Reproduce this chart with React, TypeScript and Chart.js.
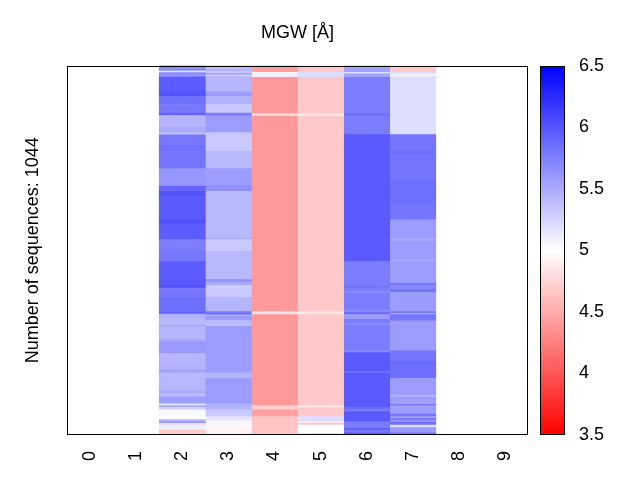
import React, { useEffect, useRef } from "react";
import { Chart, registerables } from "chart.js";

Chart.register(...registerables);

const categories = ["0", "1", "2", "3", "4", "5", "6", "7", "8", "9"];
const totalRows = 1044;
const colorbarTicks = [3.5, 4, 4.5, 5, 5.5, 6, 6.5];
const vMin = 3.5;
const vMax = 6.5;

// Each column: row where a band starts (top = row 0) and its MGW value
const col2Starts = [0, 6, 9, 15, 19, 21, 27, 32, 74, 87, 110, 134, 141, 172, 190, 196, 226, 242, 291, 337, 341, 355, 370, 436, 447, 492,
  521, 554, 560, 606, 622, 629, 643, 657, 695, 702, 714, 733, 736, 773, 780, 813, 841, 860, 868, 884, 917, 926, 936, 956, 961, 966, 973, 992, 1000, 1004, 1011, 1016, 1020, 1030];
const col2Values = [5.92, 5.55, 5.75, 5.2, 5.5, 5.7, 5.6, 5.95, 6.0, 5.84, 5.8, 5.92, 5.44, 5.5, 5.37, 5.8, 5.84, 5.82, 5.62, 5.65, 5.9, 6.0, 5.97, 6.03, 5.95, 5.76,
  5.8, 5.94, 5.96, 5.97, 6.03, 5.79, 5.81, 5.85, 5.94, 5.46, 5.42, 5.55, 5.44, 5.5, 5.6, 5.44, 5.46, 5.55, 5.42, 5.43, 5.5, 5.42, 5.57, 5.15, 5.5, 5.28, 5.04, 5.0, 5.32, 5.58, 5.2, 4.85, 5.1, 4.7];

const col3Starts = [0, 6, 11, 17, 21, 26, 32, 74, 87, 110, 134, 143, 189, 194, 242, 291, 339, 355, 487, 492,
  521, 524, 605, 612, 622, 631, 655, 695, 705, 707, 720, 733, 736, 868, 884, 956, 973, 992, 1003, 1020];
const col3Values = [5.5, 5.37, 5.46, 5.28, 5.55, 5.32, 5.43, 5.58, 5.46, 5.32, 5.75, 5.58, 5.37, 5.32, 5.42, 5.58, 5.65, 5.42, 5.5, 5.32,
  5.32, 5.42, 5.65, 5.5, 5.28, 5.32, 5.44, 5.81, 5.32, 5.58, 5.42, 5.32, 5.58, 5.44, 5.58, 5.46, 5.32, 5.15, 5.05, 4.93];

const col4Starts = [0, 19, 33, 136, 143, 696, 704, 961, 973, 992];
const col4Values = [4.43, 5.09, 4.4, 4.83, 4.4, 4.83, 4.4, 4.72, 4.43, 4.65];

const col5Starts = [0, 19, 33, 136, 143, 696, 704, 961, 967, 992, 1006, 1011, 1016, 1039];
const col5Values = [4.68, 5.2, 4.68, 4.86, 4.68, 4.86, 4.68, 4.85, 4.68, 5.2, 4.87, 4.68, 5.0, 5.2];

const col6Starts = [0, 19, 23, 33, 136, 143, 195, 554, 556, 622, 629, 638, 643, 690, 697, 704, 717, 730, 733, 806, 811, 865, 870, 966, 973, 978, 1006, 1025, 1030, 1037];
const col6Values = [5.55, 5.2, 5.55, 5.77, 5.85, 5.77, 5.97, 5.75, 5.77, 5.82, 5.77, 5.7, 5.77, 5.7, 5.85, 5.58, 5.77, 5.65, 5.77, 5.7, 5.97, 5.84, 5.97, 5.85, 5.75, 5.97, 5.77, 5.94, 5.79, 5.97];

const col7Starts = [0, 19, 25, 28, 33, 195, 242, 252, 327, 346, 368, 389, 436, 492, 495,
  549, 554, 615, 622, 632, 641, 695, 700, 704, 719, 723, 806, 837, 846, 860, 884, 931, 937, 952, 956, 962, 967, 985, 992, 997, 1001, 1008, 1016, 1023, 1037];
const col7Values = [4.68, 5.2, 4.95, 5.13, 5.2, 5.82, 5.85, 5.82, 5.85, 5.84, 5.85, 5.82, 5.58, 5.44, 5.58,
  5.5, 5.58, 5.8, 5.7, 5.82, 5.58, 5.82, 5.5, 5.82, 5.7, 5.58, 5.82, 5.87, 5.84, 5.85, 5.58, 5.46, 5.58, 5.5, 5.75, 5.55, 5.58, 5.82, 5.55, 5.82, 5.65, 5.84, 5.2, 5.58, 5.79];

const columns: [string, number[], number[]][] = [
  ["2", col2Starts, col2Values],
  ["3", col3Starts, col3Values],
  ["4", col4Starts, col4Values],
  ["5", col5Starts, col5Values],
  ["6", col6Starts, col6Values],
  ["7", col7Starts, col7Values],
];

const FONT = "'Liberation Sans', Arial, Helvetica, sans-serif";

function bwrR(v: number): string {
  const t = Math.min(1, Math.max(0, (v - vMin) / (vMax - vMin)));
  if (t <= 0.5) {
    const s = Math.round((t / 0.5) * 255);
    return `rgb(255,${s},${s})`;
  }
  const s = Math.round(((1 - t) / 0.5) * 255);
  return `rgb(${s},${s},255)`;
}

const framePlugin = {
  id: "frame",
  afterDraw(chart: any) {
    const { ctx, chartArea } = chart;
    const l = Math.round(chartArea.left) + 0.5;
    const t = Math.round(chartArea.top) + 0.5;
    const r = Math.round(chartArea.right) - 0.5;
    const b = Math.round(chartArea.bottom) - 0.5;
    ctx.save();
    ctx.strokeStyle = "#000";
    ctx.lineWidth = 1;
    ctx.strokeRect(l, t, r - l, b - t);
    ctx.restore();
  },
};

const gradientPlugin = {
  id: "cbGradient",
  beforeDatasetsDraw(chart: any) {
    const { ctx, chartArea, scales } = chart;
    const y = scales.y;
    const y0 = y.getPixelForValue(vMin);
    const y1 = y.getPixelForValue(vMax);
    const g = ctx.createLinearGradient(0, y0, 0, y1);
    g.addColorStop(0, bwrR(vMin));
    g.addColorStop(0.5, bwrR((vMin + vMax) / 2));
    g.addColorStop(1, bwrR(vMax));
    ctx.save();
    ctx.fillStyle = g;
    ctx.fillRect(chartArea.left, y1, chartArea.right - chartArea.left, y0 - y1);
    ctx.restore();
  },
};

export default function App() {
  const mainRef = useRef<HTMLCanvasElement>(null);
  const cbRef = useRef<HTMLCanvasElement>(null);

  useEffect(() => {
    Chart.defaults.color = "#000";
    Chart.defaults.font.family = FONT;
    Chart.defaults.font.size = 18;

    const datasets = columns.map(([label, starts, values]) => ({
      label: "col " + label,
      data: starts.map((s, i) => ({
        x: label,
        y: [s, i + 1 < starts.length ? starts[i + 1] : totalRows],
      })),
      backgroundColor: values.map(bwrR),
      borderWidth: 0,
      barPercentage: 1,
      categoryPercentage: 1,
      grouped: false,
    }));

    const main = new Chart(mainRef.current!, {
      type: "bar",
      data: { labels: categories, datasets: datasets as any },
      options: {
        animation: false,
        responsive: false,
        devicePixelRatio: 1,
        layout: { padding: { left: 18, right: 112, top: 0, bottom: 0 } },
        plugins: {
          legend: { display: false },
          tooltip: { enabled: false },
          title: {
            display: true,
            text: "MGW [Å]",
            fullSize: false,
            font: { size: 18, weight: "normal", family: FONT },
            color: "#000",
            padding: { top: 22, bottom: 22 },
          },
        },
        scales: {
          x: {
            type: "category",
            offset: true,
            grid: { display: false, drawTicks: false },
            border: { display: false },
            ticks: {
              minRotation: 90,
              maxRotation: 90,
              padding: 16,
              font: { size: 18, family: FONT },
              color: "#000",
            },
            afterFit(scale: any) {
              scale.height = 45;
            },
          },
          y: {
            type: "linear",
            min: 0,
            max: totalRows,
            reverse: true,
            grid: { display: false, drawTicks: false },
            border: { display: false },
            ticks: { display: false },
            title: {
              display: true,
              text: "Number of sequences: " + totalRows,
              font: { size: 18, family: FONT },
              color: "#000",
              padding: { top: 4, bottom: 4 },
            },
            afterFit(scale: any) {
              scale.width = 49;
            },
          },
        },
      },
      plugins: [framePlugin],
    });

    const cb = new Chart(cbRef.current!, {
      type: "bar",
      data: { labels: ["MGW"], datasets: [{ label: "cb", data: [] }] },
      options: {
        animation: false,
        responsive: false,
        devicePixelRatio: 1,
        layout: { padding: { left: 10, right: 30, top: 66, bottom: 45 } },
        plugins: { legend: { display: false }, tooltip: { enabled: false }, title: { display: false } },
        scales: {
          x: { display: false },
          y: {
            type: "linear",
            position: "right",
            min: vMin,
            max: vMax,
            grid: { display: false, drawTicks: false },
            border: { display: false },
            afterBuildTicks(scale: any) {
              scale.ticks = colorbarTicks.map((v) => ({ value: v }));
            },
            ticks: {
              padding: 14,
              font: { size: 18, family: FONT },
              color: "#000",
              callback: (v: any) => String(v),
            },
            afterFit(scale: any) {
              scale.width = 45;
            },
          },
        },
      },
      plugins: [gradientPlugin, framePlugin],
    });

    return () => {
      main.destroy();
      cb.destroy();
    };
  }, []);

  return (
    <div style={{ position: "absolute", left: 0, top: 0, width: 640, height: 480, background: "#fff" }}>
      <canvas
        ref={mainRef}
        width={640}
        height={480}
        style={{ position: "absolute", left: 0, top: 0, width: 640, height: 480 }}
      />
      <canvas
        ref={cbRef}
        width={110}
        height={480}
        style={{ position: "absolute", left: 530, top: 0, width: 110, height: 480 }}
      />
    </div>
  );
}
